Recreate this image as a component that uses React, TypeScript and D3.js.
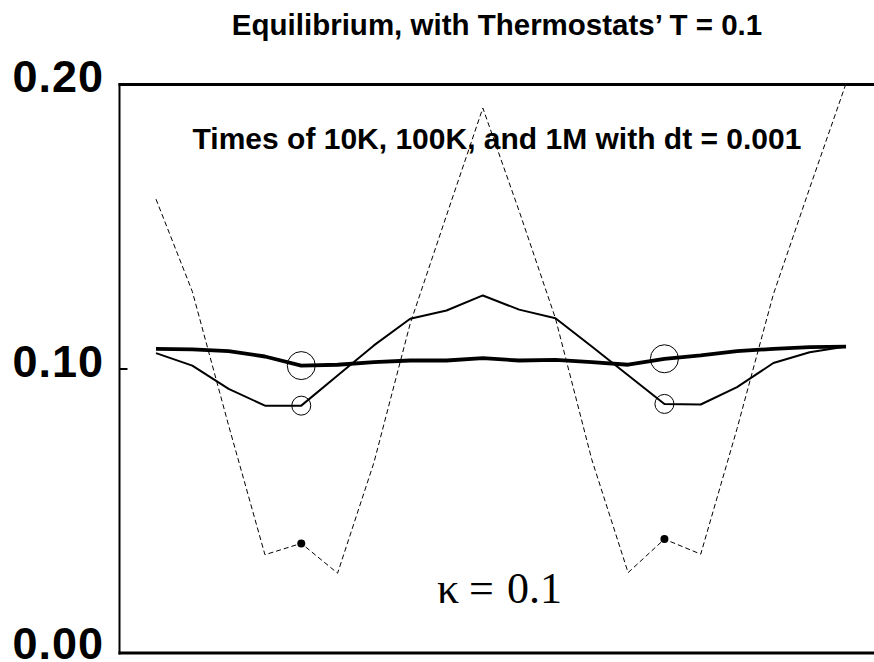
import React from "react";
import * as d3 from "d3";

const sites = [1, 2, 3, 4, 5, 6, 7, 8, 9, 10, 11, 12, 13, 14, 15, 16, 17, 18, 19, 20];
const series10K = [0.1598, 0.1273, 0.0801, 0.0346, 0.0386, 0.0281, 0.067, 0.116, 0.1541, 0.1919, 0.1556, 0.1178, 0.0681, 0.0283, 0.0401, 0.0348, 0.079, 0.1263, 0.1637, 0.2005];
const series100K = [0.1056, 0.1012, 0.093, 0.0871, 0.0871, 0.0977, 0.1083, 0.1177, 0.1206, 0.1259, 0.1209, 0.1179, 0.1079, 0.0978, 0.0877, 0.0875, 0.0936, 0.1021, 0.1059, 0.1079];
const series1M = [0.1071, 0.1069, 0.1063, 0.1044, 0.1012, 0.1015, 0.1024, 0.103, 0.103, 0.1038, 0.103, 0.1032, 0.1024, 0.1015, 0.1036, 0.1048, 0.1063, 0.1071, 0.1077, 0.1079];
const markerSites = [5, 15];
const yTicks = [0.0, 0.1, 0.2];
const title = "Equilibrium, with Thermostats\u2019 T = 0.1";
const subtitle = "Times of 10K, 100K, and 1M with dt = 0.001";
const kappaSymbol = "\u03BA";
const kappaValue = "0.1";

const W = 874;
const H = 662;
const frame = { left: 119.5, right: 882, top: 84.5, bottom: 653 };

export default function App() {
  const x = d3.scaleLinear().domain([1, 20]).range([156, 846]);
  const y = d3.scaleLinear().domain([0, 0.2]).range([653, 85]);
  const line = d3
    .line<number>()
    .x((_, i) => x(sites[i]))
    .y((v) => y(v));
  const idx = (s: number) => sites.indexOf(s);
  const sans = "'Liberation Sans', Arial, Helvetica, sans-serif";
  const serif = "'Liberation Serif', 'Times New Roman', serif";

  return (
    <svg
      width={W}
      height={H}
      viewBox={`0 0 ${W} ${H}`}
      style={{ position: "absolute", left: 0, top: 0, background: "#fff" }}
    >
      <defs>
        <clipPath id="plotClip">
          <rect x={frame.left} y={frame.top} width={frame.right - frame.left} height={frame.bottom - frame.top} />
        </clipPath>
      </defs>
      <rect x={0} y={0} width={W} height={H} fill="#fff" />
      <text x={497} y={35} textAnchor="middle" fontFamily={sans} fontWeight="bold" fontSize={29.5} fill="#000">
        {title}
      </text>

      {/* frame */}
      <line x1={frame.left} x2={frame.left} y1={frame.top - 1.5} y2={frame.bottom + 1.5} stroke="#000" strokeWidth={2} />
      <line x1={frame.left - 1} x2={frame.right} y1={frame.top} y2={frame.top} stroke="#000" strokeWidth={3} />
      <line x1={frame.left - 1} x2={frame.right} y1={frame.bottom} y2={frame.bottom} stroke="#000" strokeWidth={3} />
      <line x1={frame.right} x2={frame.right} y1={frame.top} y2={frame.bottom} stroke="#000" strokeWidth={2} />

      {yTicks.map((t) => (
        <g key={t}>
          {t > 0 && t < 0.2 && (
            <>
              <line x1={frame.left} x2={frame.left + 8} y1={y(t)} y2={y(t)} stroke="#000" strokeWidth={2} />
              <line x1={frame.right - 8} x2={frame.right} y1={y(t)} y2={y(t)} stroke="#000" strokeWidth={2} />
            </>
          )}
          <text
            x={104}
            y={t === 0 ? 659 : t === 0.2 ? 92 : 377}
            textAnchor="end"
            fontFamily={sans}
            fontWeight="bold"
            fontSize={45}
            letterSpacing={1}
            fill="#000"
          >
            {t.toFixed(2)}
          </text>
        </g>
      ))}

      <text x={497} y={149} textAnchor="middle" fontFamily={sans} fontWeight="bold" fontSize={30} fill="#000">
        {subtitle}
      </text>

      <g clipPath="url(#plotClip)">
        <path d={line(series10K) || ""} fill="none" stroke="#000" strokeWidth={1} strokeDasharray="5,3" />
        <path d={line(series100K) || ""} fill="none" stroke="#000" strokeWidth={2} strokeLinejoin="round" />
        <path d={line(series1M) || ""} fill="none" stroke="#000" strokeWidth={3.8} strokeLinejoin="round" />
        {markerSites.map((s) => (
          <g key={s}>
            <circle cx={x(s)} cy={y(series1M[idx(s)])} r={14} fill="none" stroke="#000" strokeWidth={1} />
            <circle cx={x(s)} cy={y(series100K[idx(s)])} r={9.5} fill="none" stroke="#000" strokeWidth={1} />
            <circle cx={x(s)} cy={y(series10K[idx(s)])} r={4} fill="#000" />
          </g>
        ))}
      </g>

      <g fontFamily={serif} fontSize={44} fill="#000">
        <text x={437} y={603}>{kappaSymbol}</text>
        <text x={469} y={603}>=</text>
        <text x={562} y={603} textAnchor="end">{kappaValue}</text>
      </g>
    </svg>
  );
}
